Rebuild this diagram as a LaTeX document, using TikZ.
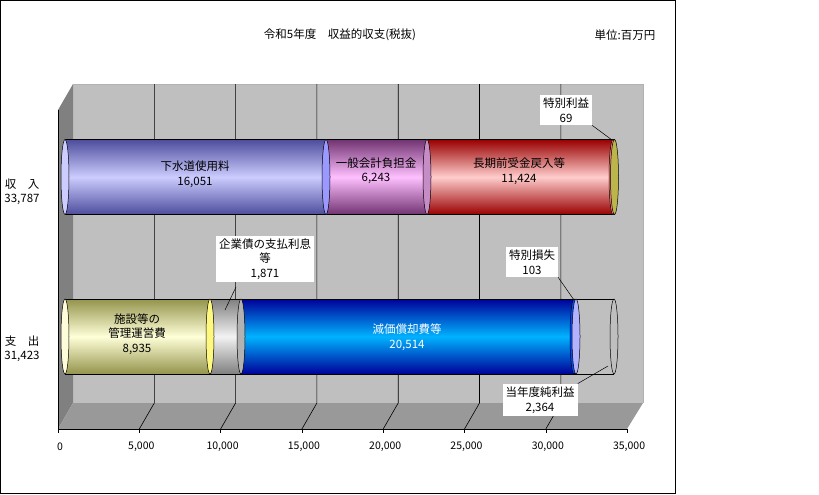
\documentclass[tikz,border=0pt]{standalone}
\usepackage{fontspec}
\setmainfont{Noto Sans CJK JP}
\usetikzlibrary{positioning}

\colorlet{sewerL}{blue!20!white}   \colorlet{sewerD}{blue!45!black!70}
\colorlet{genL}{magenta!25!white}  \colorlet{genD}{violet!60!black!80}
\colorlet{longL}{red!20!white}     \colorlet{longD}{red!60!black}
\colorlet{specL}{olive!40!white}   \colorlet{specD}{olive!70!black}
\colorlet{facL}{yellow!15!white}   \colorlet{facD}{yellow!40!black!70}
\colorlet{bondL}{black!5}          \colorlet{bondD}{black!50}
\colorlet{deprL}{cyan!70!blue}     \colorlet{deprD}{blue!60!black}
\colorlet{lossL}{blue!20!white}    \colorlet{lossD}{blue!30!black!60}

% cylinder body: x0, x1, top, bottom, light, dark
\newcommand{\cylbody}[6]{%
  \shade[top color=#6, bottom color=#6, middle color=#5] (#1,#3) rectangle (#2,#4);
  \draw[line width=0.5pt] (#1,#3) -- (#2,#3) (#1,#4) -- (#2,#4);
}
% cylinder cap: x, top, bottom, fill
\newcommand{\cylcap}[4]{%
  \draw[line width=0.5pt, fill=#4] (#1,{(#2+#3)/2}) ellipse[x radius=4, y radius={(#3-#2)/2}];
}

\begin{document}
\begin{tikzpicture}[x=1pt, y=-1pt,
    lbl/.style={font=\fontsize{11.5}{14.5}\selectfont, align=center, inner sep=1pt},
    callout/.style={lbl, fill=white, inner sep=3pt},
    axislbl/.style={font=\fontsize{10.5}{12}\selectfont},
    lead/.style={line width=0.5pt},
]
\useasboundingbox (0,0) rectangle (819,495);
\draw[line width=0.6pt] (0.3,0.3) rectangle (675,493);

% --- walls ---
\fill[black!25] (73,84) rectangle (643,403);
\fill[black!50] (58,110) -- (73,84) -- (73,403) -- (58,429) -- cycle;
\fill[black!40] (58,429) -- (73,403) -- (643,403) -- (627,429) -- cycle;
\draw[black!30] (73,84) -- (643,84) -- (643,403);
\draw (58,110) -- (58,429) -- (627,429);
\foreach \k in {1,...,6}
  \draw[line width=0.6pt] ({73+81.3*\k},84) -- ({73+81.3*\k},403) -- ({58+81.3*\k},429);
\foreach \k in {0,...,7}
  \draw ({58+81.3*\k},429) -- ({58+81.3*\k},433);

% --- axis labels ---
\foreach \v [count=\k from 0] in {0,{5,000},{10,000},{15,000},{20,000},{25,000},{30,000},{35,000}}
  \node[axislbl] (t\k) at ({60+81.3*\k},447) {\v};

% --- left labels ---
\node[lbl] (rev) at (22,192) {収　入\\33,787};
\node[lbl] (exp) at (22,349) {支　出\\31,423};

% --- title ---
\node[lbl] (title) at (340,35) {令和5年度\quad 収益的収支(税抜)};
\node[lbl] (unit) at (625,35) {単位:百万円};

% --- revenue bar ---
\cylbody{65}{326}{139.5}{214.5}{sewerL}{sewerD}
\cylbody{326}{427}{139.5}{214.5}{genL}{genD}
\cylbody{427}{613}{139.5}{214.5}{longL}{longD}
\cylbody{613}{614.5}{139.5}{214.5}{specL}{specD}
\cylcap{65}{139.5}{214.5}{sewerL}
\cylcap{326}{139.5}{214.5}{blue!40!white}
\cylcap{427}{139.5}{214.5}{violet!45!white}
\cylcap{613}{139.5}{214.5}{red!50!white}
\cylcap{614.5}{139.5}{214.5}{olive!60!white}

\node[lbl] (b1) at (195,174) {下水道使用料\\16,051};
\node[lbl] (b2) at (376,171) {一般会計負担金\\6,243};
\node[lbl] (b3) at (519,171) {長期前受金戻入等\\11,424};

% --- expense bar ---
\cylbody{65}{210}{299}{374}{facL}{facD}
\cylbody{210}{241}{299}{374}{bondL}{bondD}
\cylbody{241}{574}{299}{374}{deprL}{deprD}
\cylbody{574}{576}{299}{374}{lossL}{lossD}
\draw[line width=0.5pt] (576,299) -- (614,299) (576,374) -- (614,374);
\cylcap{65}{299}{374}{facL}
\cylcap{210}{299}{374}{yellow!50!white}
\cylcap{241}{299}{374}{black!30}
\cylcap{574}{299}{374}{blue!70!cyan}
\cylcap{576}{299}{374}{blue!30!white}
\draw[line width=0.5pt] (614,336.5) ellipse[x radius=4, y radius=37.5];

\node[lbl] (c1) at (137,334) {施設等の\\管理運営費\\8,935};
\node[lbl, text=white] (c3) at (407,337) {減価償却費等\\20,514};

% --- callouts ---
\node[callout] (k1) at (566,110) {特別利益\\69};
\draw[lead] (k1.south east) -- (612,140);
\node[callout] (k2) at (265,259) {企業債の支払利息\\等\\1,871};
\draw[lead] (236,287) -- (225,310);
\node[callout] (k3) at (532,262) {特別損失\\103};
\draw[lead] (k3.south east) -- (574,300);
\node[callout] (k4) at (540,400) {当年度純利益\\2,364};
\draw[lead] (k4.north east) -- (608,366);
\end{tikzpicture}
\end{document}
